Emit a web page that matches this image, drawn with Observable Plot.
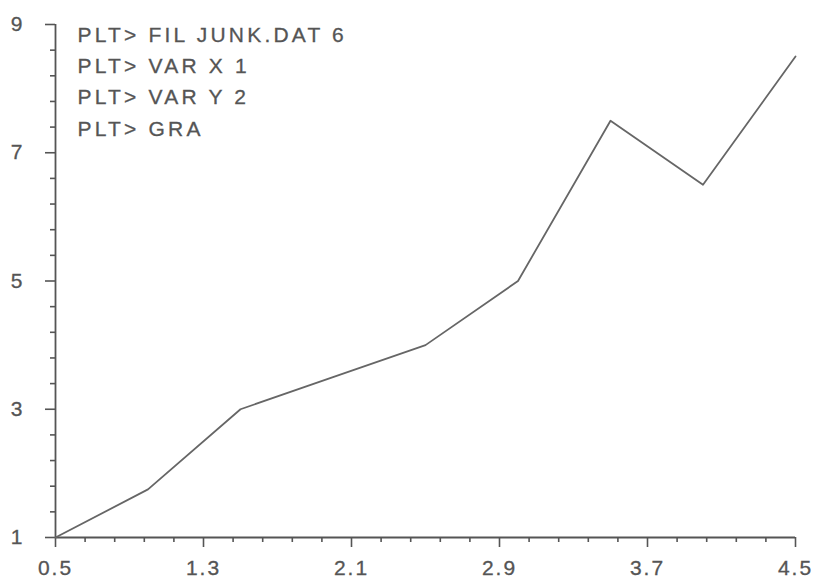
<!DOCTYPE html>
<html>
<head>
<meta charset="utf-8">
<script src="https://cdn.jsdelivr.net/npm/d3@7"></script>
<script src="https://cdn.jsdelivr.net/npm/@observablehq/plot@0.6"></script>
<style>
  html, body { margin: 0; padding: 0; background: #fff; }
  #chart svg text { stroke: #555; stroke-width: 0.3px; }
  #chart svg g[aria-label="text"] text { letter-spacing: 3.2px; }
  #chart svg g[aria-label$="tick label"] text { letter-spacing: 2px; }
</style>
</head>
<body>
<div id="chart"></div>
<script>
// Data read from JUNK.DAT (column 1 = X, column 2 = Y)
const xValues = [0.5, 1.0, 1.5, 2.0, 2.5, 3.0, 3.5, 4.0, 4.5];
const yValues = [1.0, 1.75, 3.0, 3.5, 4.0, 5.0, 7.5, 6.5, 8.5];

// Labelled tick positions
const xTicks = [0.5, 1.3, 2.1, 2.9, 3.7, 4.5];
const yTicks = [1, 3, 5, 7, 9];

// Session commands echoed on the plot
const sessionLines = [
  "PLT> FIL JUNK.DAT 6",
  "PLT> VAR X 1",
  "PLT> VAR Y 2",
  "PLT> GRA"
];

// Minor ticks: four between each pair of labelled ticks
const xMinor = d3.range(0, 26).filter(i => i % 5 !== 0).map(i => +(0.5 + i * 0.16).toFixed(2));
const yMinor = d3.range(0, 21).filter(i => i % 5 !== 0).map(i => +(1 + i * 0.4).toFixed(2));

const points = xValues.map((x, i) => ({x, y: yValues[i]}));

const ink = "#555";
const font = "Liberation Sans, Arial, sans-serif";

const chart = Plot.plot({
  width: 813,
  height: 582,
  marginLeft: 55,
  marginRight: 18,
  marginTop: 24,
  marginBottom: 45,
  style: {color: ink, background: "#fff", fontFamily: font},
  x: {domain: [0.5, 4.5]},
  y: {domain: [1, 9]},
  marks: [
    // axis lines
    Plot.ruleX([0.5], {stroke: ink, strokeWidth: 1.8}),
    Plot.ruleY([1], {stroke: ink, strokeWidth: 1.8}),
    // minor ticks
    Plot.axisX({ticks: xMinor, tickSize: 5, text: null, strokeWidth: 1.6, label: null}),
    Plot.axisY({ticks: yMinor, tickSize: 5, text: null, strokeWidth: 1.6, label: null}),
    // major ticks with labels
    Plot.axisX({
      ticks: xTicks, tickSize: 10, tickPadding: 13,
      tickFormat: d => d.toFixed(1), fontSize: 21, strokeWidth: 1.6, label: null
    }),
    Plot.axisY({
      ticks: yTicks, tickSize: 10, tickPadding: 21,
      tickFormat: d => String(d), fontSize: 21, strokeWidth: 1.6, label: null
    }),
    // data line
    Plot.line(points, {x: "x", y: "y", stroke: "#666", strokeWidth: 1.8}),
    // command echo
    Plot.text([sessionLines.join("\n")], {
      frameAnchor: "top-left", dx: 22, dy: -5,
      textAnchor: "start", lineAnchor: "top",
      lineHeight: 1.49, fontSize: 21, fill: ink
    })
  ]
});

document.getElementById("chart").append(chart);
</script>
</body>
</html>
